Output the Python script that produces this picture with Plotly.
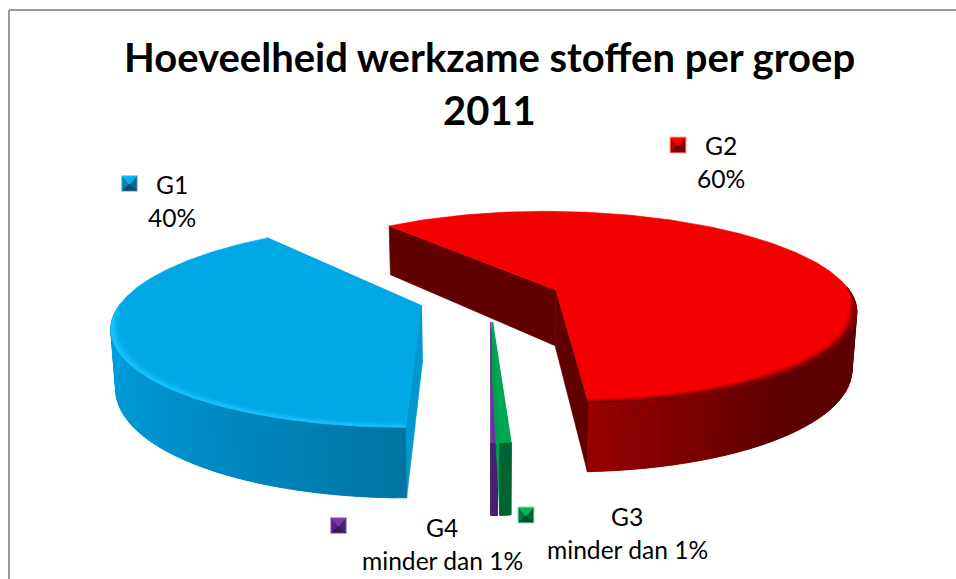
import numpy as np
import plotly.graph_objects as go

# ---- data ----
categories = ["G1", "G2", "G3", "G4"]
values = [39.4, 59.8, 0.5, 0.3]
percent_labels = ["40%", "60%", "minder dan 1%", "minder dan 1%"]
title_lines = ["Hoeveelheid werkzame stoffen per groep", "2011"]

# ---- style / layout ----
W, H_PX = 956, 579
CX, CY, A, B, K = 490.0, 298.0, 298.0, 96.0, 0.185   # projection of the pie disc
DEPTH, SHRINK = 56.5, 0.987
EXPLODE = 0.24
FIRST_ANGLE = 180.0
radius = {"G1": 1.0, "G2": 1.0, "G3": 0.94, "G4": 0.94}
top_col = {"G1": "#00A8E6", "G2": "#F50000", "G3": "#00A651", "G4": "#7030A0"}
face_col = {"G1": "#0098CF", "G2": "#600000", "G3": "#00A04C", "G4": "#6A2EA0"}
side_col = {"G1": ((0, 157, 220), (0, 116, 163)),
            "G2": ((158, 0, 0), (92, 0, 0)),
            "G3": ((0, 104, 55), (0, 104, 55)),
            "G4": ((75, 38, 120), (75, 38, 120))}
rim_col = {"G1": (25, 192, 255), "G2": (105, 0, 0)}
label_pos = {"G1": (172, 184, 217), "G2": (721, 145, 178),
             "G3": (627, 516, 549), "G4": (442, 527, 560)}
pct_x = {"G1": 172, "G2": 721, "G3": 627, "G4": 442}
key_pos = {"G1": (129.5, 183.5), "G2": (678, 145), "G3": (526, 515), "G4": (338.5, 525.5)}
# top, left, right, bottom, outer edge
key_shades = {"G1": ("#00B4F5", "#0A7FAE", "#07658C", "#054F6E", "#6FD0F2"),
              "G2": ("#FF0000", "#B00000", "#900000", "#700000", "#FF7070"),
              "G3": ("#00B85A", "#007A3E", "#006633", "#004D26", "#66CC99"),
              "G4": ("#7A35B0", "#54287F", "#472269", "#371A52", "#A98AC8")}


def proj(X, V, h=0.0):
    s = 1.0 / (1.0 - K * V)
    sx = 1.0 - (1.0 - SHRINK) * (h / DEPTH)
    return CX + A * X * s * sx, CY + (B * V + h) * s


def disc(theta_deg, r=1.0):
    t = np.radians(theta_deg)
    return r * np.sin(t), -r * np.cos(t)


def poly(fig, xs, ys, color):
    xs, ys = list(xs), list(ys)
    fig.add_trace(go.Scatter(x=xs + xs[:1], y=ys + ys[:1], mode="lines", fill="toself",
                             fillcolor=color, line=dict(color=color, width=0.6),
                             hoverinfo="skip", showlegend=False))


def rgb(c):
    return "rgb(%d,%d,%d)" % tuple(int(round(v)) for v in c)


# slice angles come from the values
total = sum(values)
angles = {}
a0 = FIRST_ANGLE
for name, v in zip(categories, values):
    a1 = a0 + 360.0 * v / total
    angles[name] = (a0, a1)
    a0 = a1

fig = go.Figure()


def draw_slice(name):
    a0, a1 = angles[name]
    mid = (a0 + a1) / 2
    R = radius[name]
    ex, ev = disc(mid, EXPLODE)
    th = np.linspace(a0, a1, 200)
    rx, rv = disc(th, R)
    # radial cut faces
    for ang in (a0, a1):
        fx, fv = disc(ang, R)
        p0 = proj(ex, ev)
        p1 = proj(ex + fx, ev + fv)
        p2 = proj(ex + fx, ev + fv, DEPTH)
        p3 = proj(ex, ev, DEPTH)
        poly(fig, [p0[0], p1[0], p2[0], p3[0]], [p0[1], p1[1], p2[1], p3[1]], face_col[name])
    # outer wall: overlapping strips, so that no seams show between shades
    n = 90
    front = np.linspace(a0, a1, n)
    lo, hi = side_col[name]
    for j in range(n - 1):
        t0, t1 = front[j], front[min(j + 2, n - 1)]
        x0, v0 = disc(t0, R)
        x1, v1 = disc(t1, R)
        if v0 + v1 < -0.02:
            continue
        tm = np.sin(np.radians((front[j] + front[j + 1]) / 2))
        if name == "G1":
            f = np.clip(1 + tm, 0, 1)
        else:
            f = np.clip(tm / 0.62, 0, 1)
        col = [lo[i] + (hi[i] - lo[i]) * f for i in range(3)]
        a = proj(ex + x0, ev + v0)
        b = proj(ex + x1, ev + v1)
        c = proj(ex + x1, ev + v1, DEPTH)
        d = proj(ex + x0, ev + v0, DEPTH)
        poly(fig, [a[0], b[0], c[0], d[0]], [a[1], b[1], c[1], d[1]], rgb(col))
    # top
    ax, ay = proj(ex, ev)
    tx, ty = proj(ex + rx, ev + rv)
    poly(fig, np.r_[ax, tx], np.r_[ay, ty], top_col[name])
    # bevel on the front rim, fading out where the rim turns to the back
    if name in rim_col:
        base = np.array([int(top_col[name][i:i + 2], 16) for i in (1, 3, 5)], float)
        edge = np.array(rim_col[name], float)
        vis = th[rv > -0.04]
        _, vv = disc(vis)
        taper = np.clip((vv + 0.04) / 0.3, 0, 1)
        steps = [(0.0, 0.008, 1.0), (0.008, 0.016, 0.7), (0.016, 0.024, 0.35), (0.024, 0.032, 0.12)]
        for d0, d1, w in reversed(steps):
            o_x, o_v = disc(vis, 1.0 - d0 * taper)
            i_x, i_v = disc(vis, 1.0 - d1 * taper)
            ox, oy = proj(ex + o_x, ev + o_v)
            ix, iy = proj(ex + i_x, ev + i_v)
            poly(fig, np.r_[ox, ix[::-1]], np.r_[oy, iy[::-1]], rgb(base + (edge - base) * w))


draw_slice("G2")
draw_slice("G4")
draw_slice("G3")
draw_slice("G1")

# legend keys: small bevelled squares
for name in categories:
    kx, ky = key_pos[name]
    r, q = 8, 7
    t, l, rt, b_, edge = key_shades[name]
    poly(fig, [kx - r, kx + r, kx + r, kx - r], [ky - r, ky - r, ky + r, ky + r], edge)
    poly(fig, [kx - q, kx, kx - q], [ky - q, ky, ky + q], l)
    poly(fig, [kx + q, kx, kx + q], [ky - q, ky, ky + q], rt)
    poly(fig, [kx - q, kx + q, kx], [ky + q, ky + q, ky], b_)
    poly(fig, [kx - q, kx + q, kx], [ky - q, ky - q, ky + 1], t)

ann = []
for i, line in enumerate(title_lines):
    ann.append(dict(x=489, y=57 + 53 * i, text="<b>%s</b>" % line, font=dict(size=40)))
for name, pct in zip(categories, percent_labels):
    x, y0, y1 = label_pos[name]
    ann.append(dict(x=x, y=y0, text=name, font=dict(size=24.6)))
    ann.append(dict(x=pct_x[name], y=y1, text=pct, font=dict(size=24.6)))
for a in ann:
    a.update(xref="x", yref="y", showarrow=False, xanchor="center", yanchor="middle")
    a["font"].update(family="Lato, Carlito, sans-serif", color="#000000")

shapes = [dict(type="line", xref="x", yref="y", x0=9, x1=9, y0=10, y1=579,
               line=dict(color="#999999", width=2)),
          dict(type="line", xref="x", yref="y", x0=9, x1=956, y0=10, y1=10,
               line=dict(color="#999999", width=2))]

fig.update_layout(width=W, height=H_PX, margin=dict(l=0, r=0, t=0, b=0),
                  paper_bgcolor="white", plot_bgcolor="white", showlegend=False,
                  annotations=ann, shapes=shapes,
                  xaxis=dict(range=[0, W], visible=False, fixedrange=True),
                  yaxis=dict(range=[H_PX, 0], visible=False, fixedrange=True))
fig.write_html("out.html", config={"displayModeBar": False},
               post_script="document.body.style.margin='0';document.body.style.overflow='hidden';")
